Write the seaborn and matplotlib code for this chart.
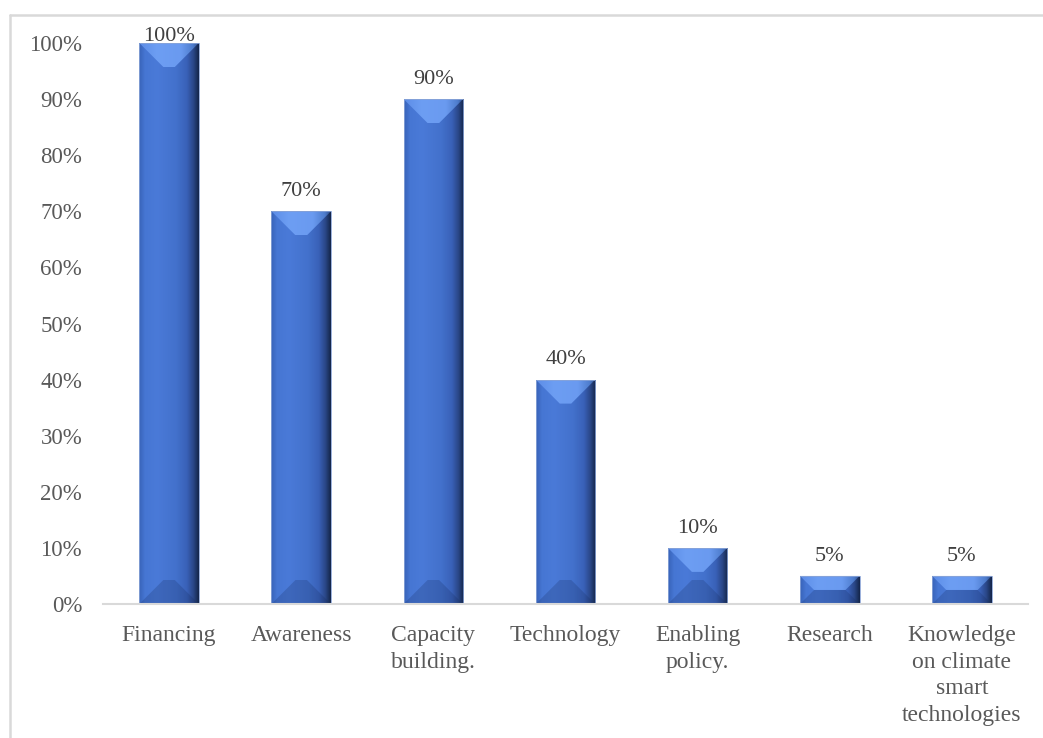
import numpy as np
import pandas as pd
import matplotlib
matplotlib.use("Agg")
import matplotlib.pyplot as plt
import seaborn as sns
from matplotlib.colors import LinearSegmentedColormap
from matplotlib.patches import Polygon
from matplotlib.lines import Line2D

# Needs reported by respondents (% of respondents)
categories = [
    "Financing",
    "Awareness",
    "Capacity\nbuilding.",
    "Technology",
    "Enabling\npolicy.",
    "Research",
    "Knowledge\non climate\nsmart\ntechnologies",
]
shares = [100, 70, 90, 40, 10, 5, 5]
y_ticks = list(range(0, 101, 10))

sns.set_theme(style="white")
plt.rcParams["font.family"] = ["Liberation Serif", "DejaVu Serif"]

W, H = 1043, 738
fig = plt.figure(figsize=(W / 100, H / 100), dpi=100)
ax = fig.add_axes([103 / W, 1 - 604 / H, (1028 - 103) / W, (604 - 43) / H])

df = pd.DataFrame({"need": categories, "share": shares})
sns.barplot(data=df, x="need", y="share", width=0.45, color="#4472C4",
            ax=ax, zorder=2, saturation=1)

ax.set_xlim(-0.5, len(categories) - 0.5)
ax.set_ylim(0, 100)

# Bevelled bar look: horizontal body shading plus top/bottom facets
body_cmap = LinearSegmentedColormap.from_list("body", [
    (0.0, "#3863b8"), (0.10, "#4676d3"), (0.30, "#4a7ad8"),
    (0.62, "#4371cc"), (0.80, "#3961b8"), (0.91, "#2a4787"),
    (1.0, "#142549")])
top_cmap = LinearSegmentedColormap.from_list("top", [
    (0.0, "#5c8ce6"), (0.3, "#6d9ef3"), (0.7, "#6a9af0"),
    (0.9, "#4e7ccc"), (1.0, "#2f4c88")])
grad = np.linspace(0, 1, 256).reshape(1, -1)

px_per_x = (1028 - 103) / len(categories)
px_per_y = (604 - 43) / 100.0
bevel_px = 24.0

for patch in ax.patches:
    x0 = patch.get_x()
    w = patch.get_width()
    h = patch.get_height()
    x1 = x0 + w
    d_px = min(bevel_px, h * px_per_y / 2, w * px_per_x / 2)
    dx = d_px / px_per_x
    dy = d_px / px_per_y

    body = ax.imshow(grad, cmap=body_cmap, extent=[x0, x1, 0, h],
                     aspect="auto", interpolation="bilinear", zorder=3)
    body.set_clip_path(patch)

    top = Polygon([(x0, h), (x1, h), (x1 - dx, h - dy), (x0 + dx, h - dy)],
                  closed=True, facecolor="none", edgecolor="none")
    ax.add_patch(top)
    top_img = ax.imshow(grad, cmap=top_cmap, extent=[x0, x1, h - dy, h],
                        aspect="auto", interpolation="bilinear", zorder=4)
    top_img.set_clip_path(top)

    bottom = Polygon([(x0, 0), (x1, 0), (x1 - dx, dy), (x0 + dx, dy)],
                     closed=True, facecolor="#14285a", alpha=0.22,
                     edgecolor="none", zorder=4)
    ax.add_patch(bottom)

    # thin light rim around each bar
    patch.set_facecolor("none")
    patch.set_edgecolor("#8aa4d6")
    patch.set_linewidth(0.6)
    patch.set_zorder(5)

ax.set_xlim(-0.5, len(categories) - 0.5)
ax.set_ylim(0, 100)

# Value labels, kept inside the plot area for the tallest bar
for patch, v in zip(ax.patches, shares):
    cx = patch.get_x() + patch.get_width() / 2
    pad = 11 if v <= 95 else 1.5
    ax.annotate(f"{v}%", (cx, v), xytext=(0, pad), textcoords="offset points",
                ha="center", va="baseline", fontsize=16, color="#404040",
                zorder=6, annotation_clip=False)

ax.set_yticks(y_ticks)
ax.set_yticklabels([f"{t}%" for t in y_ticks])
ax.set_xlabel("")
ax.set_ylabel("")
ax.tick_params(axis="y", length=0, pad=15, labelsize=16.5, labelcolor="#595959")
ax.tick_params(axis="x", length=0, pad=15, labelsize=17, labelcolor="#595959")
for lbl in ax.get_xticklabels():
    lbl.set_linespacing(1.36)
    lbl.set_ha("center")

for side in ["left", "top", "right"]:
    ax.spines[side].set_visible(False)
ax.spines["bottom"].set_color("#d9d9d9")
ax.spines["bottom"].set_linewidth(1.5)
ax.spines["bottom"].set_zorder(5)

# Outer chart-area border (left and top edges)
fig.add_artist(Line2D([9.5 / W, 9.5 / W], [0, 1 - 14.5 / H],
                      transform=fig.transFigure, color="#d9d9d9", lw=1.8))
fig.add_artist(Line2D([9.5 / W, 1], [1 - 14.5 / H, 1 - 14.5 / H],
                      transform=fig.transFigure, color="#d9d9d9", lw=1.8))

fig.savefig("out.png", dpi=100)
